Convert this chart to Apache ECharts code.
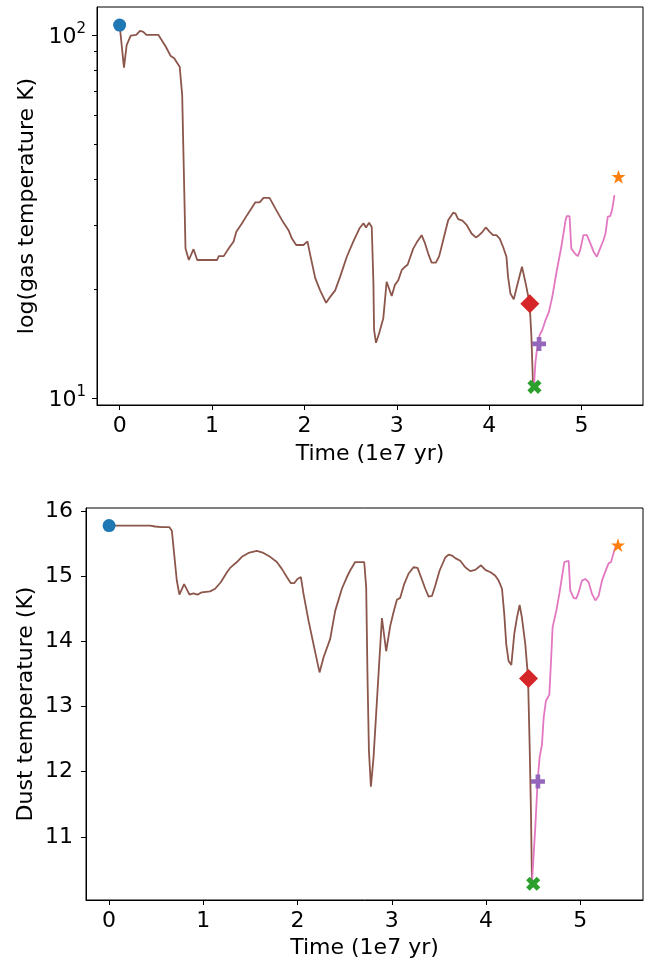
<!DOCTYPE html>
<html><head><meta charset="utf-8">
<script src="https://cdn.jsdelivr.net/npm/echarts@6/dist/echarts.min.js"></script>
<style>html,body{margin:0;padding:0;background:#fff}#c{width:650px;height:967px}</style>
</head><body><div id="c"></div>
<script>
// ---- data ----
const xTicks = [0, 1, 2, 3, 4, 5];
const gasMajorTicks = [10, 100];
const gasMinorTicks = [20, 30, 40, 50, 60, 70, 80, 90];
const dustTicks = [11, 12, 13, 14, 15, 16];

const gasTimeBefore = [0,0.047,0.076,0.12,0.18,0.22,0.256,0.29,0.42,0.50,0.55,0.59,0.65,0.677,0.695,0.713,0.749,0.80,0.84,1.055,1.073,1.127,1.18,1.234,1.263,1.325,1.379,1.469,1.515,1.558,1.623,1.685,1.757,1.828,1.865,1.911,1.99,2.033,2.063,2.117,2.17,2.235,2.279,2.333,2.387,2.459,2.53,2.595,2.639,2.667,2.70,2.729,2.747,2.754,2.775,2.81,2.854,2.89,2.945,2.98,3.016,3.053,3.089,3.117,3.178,3.215,3.269,3.305,3.34,3.377,3.423,3.459,3.502,3.556,3.61,3.636,3.664,3.711,3.755,3.809,3.855,3.891,3.928,3.963,4.006,4.042,4.078,4.114,4.15,4.187,4.204,4.23,4.266,4.30,4.355,4.40,4.438,4.457,4.474,4.485];
const gasTempBefore = [106.5,81.3,93.8,99.6,100,102.6,102,100,100,92.8,87.7,86.3,81.8,68.4,42.0,25.8,24.0,25.7,24.0,24.0,24.6,24.6,25.8,27.0,28.7,30.3,31.9,34.6,34.6,35.6,35.6,33.3,30.9,29.0,27.5,26.4,26.4,27.0,24.8,21.4,19.8,18.3,19.0,19.8,21.6,24.5,27.0,29.3,30.3,29.5,30.4,29.6,20.7,15.4,14.2,15.1,16.6,20.9,19.1,20.5,21.1,22.5,23.0,23.3,25.8,26.8,28.1,26.7,25.0,23.6,23.6,24.6,27.2,30.9,32.4,32.2,31.1,30.8,30.0,28.4,27.7,28.1,28.7,29.5,28.7,28.1,28.1,27.5,26.1,24.5,21.6,19.4,18.7,20.3,23.0,20.4,18.2,14.8,11.0,10.74];
const gasTimeAfter = [4.485,4.50,4.52,4.546,4.575,4.61,4.647,4.683,4.727,4.781,4.827,4.84,4.87,4.889,4.935,4.96,4.986,5.02,5.057,5.094,5.13,5.165,5.20,5.237,5.259,5.284,5.31,5.331,5.356];
const gasTempAfter = [10.74,12.5,13.8,14.9,15.4,16.4,17.3,19.0,22.1,26.1,30.9,31.7,31.7,25.8,24.9,24.6,25.6,28.1,28.1,26.7,25.3,24.5,25.8,27.2,28.4,31.6,31.7,33.0,36.2];

const dustTimeBefore = [0,0.03,0.06,0.08,0.435,0.488,0.56,0.64,0.666,0.69,0.718,0.746,0.796,0.853,0.895,0.938,0.984,1.072,1.125,1.185,1.249,1.284,1.356,1.409,1.479,1.568,1.638,1.709,1.78,1.833,1.886,1.929,1.964,1.999,2.035,2.063,2.116,2.176,2.233,2.275,2.346,2.399,2.47,2.523,2.558,2.611,2.665,2.707,2.728,2.742,2.757,2.778,2.806,2.848,2.895,2.94,2.983,3.018,3.054,3.089,3.132,3.177,3.23,3.273,3.309,3.355,3.39,3.426,3.461,3.507,3.567,3.603,3.638,3.673,3.726,3.779,3.832,3.885,3.946,3.992,4.052,4.098,4.133,4.169,4.193,4.214,4.239,4.268,4.299,4.328,4.356,4.38,4.416,4.445,4.462,4.476,4.487];
const dustTempBefore = [15.78,15.75,15.78,15.78,15.78,15.766,15.755,15.755,15.70,15.35,14.94,14.72,14.88,14.72,14.74,14.72,14.755,14.77,14.81,14.91,15.06,15.13,15.22,15.30,15.36,15.39,15.36,15.30,15.22,15.115,14.99,14.895,14.895,14.96,14.99,14.73,14.32,13.91,13.525,13.755,14.04,14.47,14.81,14.99,15.09,15.22,15.22,15.22,14.83,13.45,12.32,11.77,12.22,13.24,14.36,13.85,14.24,14.45,14.64,14.67,14.885,15.04,15.14,15.13,14.99,14.81,14.69,14.70,14.86,15.09,15.29,15.335,15.32,15.28,15.24,15.14,15.08,15.10,15.17,15.10,15.06,15.01,14.935,14.81,14.42,13.96,13.70,13.64,14.115,14.37,14.56,14.37,13.96,13.45,12.42,11.40,10.30];
const dustTimeAfter = [4.487,4.522,4.547,4.568,4.593,4.611,4.635,4.671,4.689,4.706,4.745,4.777,4.805,4.83,4.851,4.876,4.894,4.929,4.958,4.982,5.018,5.053,5.088,5.124,5.159,5.194,5.23,5.276,5.30,5.326,5.361,5.378];
const dustTempAfter = [10.30,11.14,11.86,12.22,12.42,12.83,13.09,13.18,13.70,14.22,14.47,14.73,14.99,15.22,15.19,15.24,14.78,14.67,14.66,14.755,14.935,14.96,14.91,14.73,14.63,14.70,14.935,15.115,15.20,15.22,15.40,15.47];

// marker points [time, value]
const gasStart = [0, 106.5], gasDiamond = [4.44, 18.2], gasPlus = [4.54, 14.1], gasCross = [4.49, 10.74], gasStar = [5.40, 40.7];
const dustStart = [0, 15.78], dustDiamond = [4.45, 13.43], dustPlus = [4.55, 11.85], dustCross = [4.50, 10.28], dustStar = [5.40, 15.48];

// ---- chart ----
const FONT = 'DejaVu Sans';
const FS = 22;
const pairs = (t, v) => t.map((x, i) => [x, v[i]]);
const XMIN = -0.245, XMAX = 5.665;
const GMIN = 9.57, GMAX = 119.4;
const DMIN = 10.03, DMAX = 16.05;

const PLUS = 'path://M1,0H2V1H3V2H2V3H1V2H0V1H1Z';
const STAR = 'path://M0,-1L0.2245,-0.309L0.951,-0.309L0.363,0.118L0.588,0.809L0,0.382L-0.588,0.809L-0.363,0.118L-0.951,-0.309L-0.2245,-0.309Z';

function xAxisDef(gridIndex, nameGap) {
  return {
    type: 'value', gridIndex, min: XMIN, max: XMAX, position: 'bottom',
    name: 'Time (1e7 yr)', nameLocation: 'middle', nameGap,
    nameTextStyle: { fontFamily: FONT, fontSize: FS, color: '#000' },
    axisLine: { show: true, onZero: false, lineStyle: { color: '#000', width: 1 } },
    axisTick: { show: true, length: 5, customValues: xTicks, lineStyle: { color: '#000', width: 1 } },
    axisLabel: { customValues: xTicks, fontFamily: FONT, fontSize: FS, color: '#000', margin: 10 },
    splitLine: { show: false }
  };
}

const supRich = {
  b: { fontFamily: FONT, fontSize: FS, color: '#000', verticalAlign: 'bottom' },
  s: { fontFamily: FONT, fontSize: 15, color: '#000', verticalAlign: 'bottom', padding: [0, 0, 11, 0] }
};

const lg = Math.log10;

function markerSeries(xi, yi, pt, symbol, size, color, rotate) {
  return {
    type: 'scatter', xAxisIndex: xi, yAxisIndex: yi, data: [pt],
    symbol, symbolSize: size, symbolRotate: rotate || 0,
    itemStyle: { color, opacity: 1 }, z: 5, silent: true
  };
}

const option = {
  backgroundColor: '#fff',
  animation: false,
  grid: [
    { left: 97, top: 7, width: 546, height: 398, show: true, borderColor: '#000', borderWidth: 1, outerBoundsMode: 'none', containLabel: false },
    { left: 86, top: 508, width: 557, height: 392, show: true, borderColor: '#000', borderWidth: 1, outerBoundsMode: 'none', containLabel: false }
  ],
  xAxis: [xAxisDef(0, 38), xAxisDef(1, 37)],
  yAxis: [
    // 0: log axis carrying gas data
    { type: 'log', logBase: 10, gridIndex: 0, min: GMIN, max: GMAX, position: 'left',
      axisLine: { show: false, onZero: false }, axisTick: { show: false }, axisLabel: { show: false }, splitLine: { show: false } },
    // 1: major ticks / labels for the log axis
    { type: 'value', gridIndex: 0, min: lg(GMIN), max: lg(GMAX), position: 'left',
      name: 'log(gas temperature K)', nameLocation: 'middle', nameGap: 59, nameRotate: 90, nameMoveOverlap: false,
      nameTextStyle: { fontFamily: FONT, fontSize: FS, color: '#000' },
      axisLine: { show: true, onZero: false, lineStyle: { color: '#000', width: 1 } },
      axisTick: { show: true, length: 5, customValues: gasMajorTicks.map(lg), lineStyle: { color: '#000', width: 1 } },
      axisLabel: { customValues: gasMajorTicks.map(lg), margin: 11, rich: supRich,
        formatter: v => '{b|10}{s|' + Math.round(v) + '}' },
      splitLine: { show: false } },
    // 2: minor ticks for the log axis
    { type: 'value', gridIndex: 0, min: lg(GMIN), max: lg(GMAX), position: 'left',
      axisLine: { show: false, onZero: false },
      axisTick: { show: true, length: 3, customValues: gasMinorTicks.map(lg), lineStyle: { color: '#000', width: 1 } },
      axisLabel: { show: false }, splitLine: { show: false } },
    // 3: dust axis
    { type: 'value', gridIndex: 1, min: DMIN, max: DMAX, position: 'left',
      name: 'Dust temperature (K)', nameLocation: 'middle', nameGap: 49, nameRotate: 90, nameMoveOverlap: false,
      nameTextStyle: { fontFamily: FONT, fontSize: FS, color: '#000' },
      axisLine: { show: true, onZero: false, lineStyle: { color: '#000', width: 1 } },
      axisTick: { show: true, length: 5, customValues: dustTicks, lineStyle: { color: '#000', width: 1 } },
      axisLabel: { customValues: dustTicks, fontFamily: FONT, fontSize: FS, color: '#000', margin: 13 },
      splitLine: { show: false } }
  ],
  series: [
    { type: 'line', xAxisIndex: 0, yAxisIndex: 0, data: pairs(gasTimeBefore, gasTempBefore), showSymbol: false,
      lineStyle: { color: '#8c564b', width: 1.8 }, itemStyle: { color: '#8c564b' }, z: 2, silent: true },
    { type: 'line', xAxisIndex: 0, yAxisIndex: 0, data: pairs(gasTimeAfter, gasTempAfter), showSymbol: false,
      lineStyle: { color: '#e377c2', width: 1.8 }, itemStyle: { color: '#e377c2' }, z: 2, silent: true },
    markerSeries(0, 0, gasStart, 'circle', 13, '#1f77b4'),
    markerSeries(0, 0, gasDiamond, 'diamond', 19, '#d62728'),
    markerSeries(0, 0, gasPlus, PLUS, 14, '#9467bd'),
    markerSeries(0, 0, gasCross, PLUS, 15, '#2ca02c', 45),
    markerSeries(0, 0, gasStar, STAR, 14, '#ff7f0e'),

    { type: 'line', xAxisIndex: 1, yAxisIndex: 3, data: pairs(dustTimeBefore, dustTempBefore), showSymbol: false,
      lineStyle: { color: '#8c564b', width: 1.8 }, itemStyle: { color: '#8c564b' }, z: 2, silent: true },
    { type: 'line', xAxisIndex: 1, yAxisIndex: 3, data: pairs(dustTimeAfter, dustTempAfter), showSymbol: false,
      lineStyle: { color: '#e377c2', width: 1.8 }, itemStyle: { color: '#e377c2' }, z: 2, silent: true },
    markerSeries(1, 3, dustStart, 'circle', 13, '#1f77b4'),
    markerSeries(1, 3, dustDiamond, 'diamond', 19, '#d62728'),
    markerSeries(1, 3, dustPlus, PLUS, 14, '#9467bd'),
    markerSeries(1, 3, dustCross, PLUS, 15, '#2ca02c', 45),
    markerSeries(1, 3, dustStar, STAR, 14, '#ff7f0e')
  ]
};
const chart = echarts.init(document.getElementById('c'), null, { renderer: 'canvas' });
chart.setOption(option);
</script></body></html>
